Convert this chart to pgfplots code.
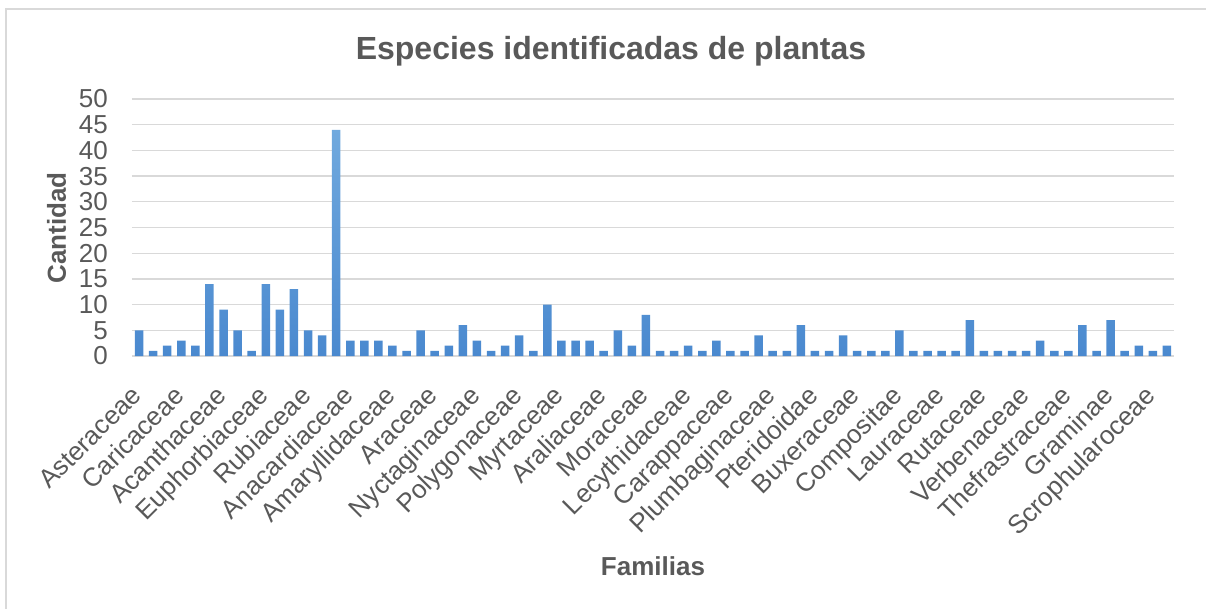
\documentclass[border=0pt]{standalone}
\usepackage{fontspec}
\setmainfont{Liberation Sans}
\usepackage{pgfplots}
\pgfplotsset{compat=1.18}
\definecolor{txt}{HTML}{595959}
\definecolor{gridc}{HTML}{D9D9D9}
\definecolor{bartop}{HTML}{70A9DE}
\definecolor{barbot}{HTML}{4A89CF}
\begin{document}
\begin{tikzpicture}[x=1pt,y=1pt]
\useasboundingbox (-132,-252) rectangle (1074,356);
\draw[gridc, line width=1.2pt] (-126,347) rectangle (1090,-270);
\begin{axis}[
  at={(0,0)}, anchor=south west,
  scale only axis, width=1042pt, height=257pt,
  xmin=0.5, xmax=74.5, ymin=0, ymax=50,
  ytick={0,5,...,50},
  xtick={1,4,...,73},
  xticklabels={Asteraceae,Caricaceae,Acanthaceae,Euphorbiaceae,Rubiaceae,Anacardiaceae,Amaryllidaceae,Araceae,Nyctaginaceae,Polygonaceae,Myrtaceae,Araliaceae,Moraceae,Lecythidaceae,Carappaceae,Plumbaginaceae,Pteridoidae,Buxeraceae,Compositae,Lauraceae,Rutaceae,Verbenaceae,Thefrastraceae,Graminae,Scrophularoceae},
  axis x line*=bottom, axis y line*=left,
  y axis line style={draw=none},
  x axis line style={gridc, line width=2pt},
  ymajorgrids, grid style={gridc, line width=1.3pt},
  major tick length=0pt,
  tick label style={text=txt},
  /pgf/number format/assume math mode=true,
  yticklabel style={anchor=east, inner sep=0pt, font=\fontsize{26}{26}\selectfont},
  yticklabel shift=24pt,
  xticklabel style={xshift=-9pt, yshift=-4pt, rotate=45, anchor=north east, inner sep=0pt, font=\fontsize{26}{26}\selectfont},
  xticklabel shift=24pt,
  ybar, bar width=8.5pt,
]
\addplot[draw=none, top color=bartop, bottom color=barbot] coordinates {
(1,5) (2,1) (3,2) (4,3) (5,2) (6,14) (7,9) (8,5) (9,1) (10,14)
(11,9) (12,13) (13,5) (14,4) (15,44) (16,3) (17,3) (18,3) (19,2) (20,1)
(21,5) (22,1) (23,2) (24,6) (25,3) (26,1) (27,2) (28,4) (29,1) (30,10)
(31,3) (32,3) (33,3) (34,1) (35,5) (36,2) (37,8) (38,1) (39,1) (40,2)
(41,1) (42,3) (43,1) (44,1) (45,4) (46,1) (47,1) (48,6) (49,1) (50,1)
(51,4) (52,1) (53,1) (54,1) (55,5) (56,1) (57,1) (58,1) (59,1) (60,7)
(61,1) (62,1) (63,1) (64,1) (65,3) (66,1) (67,1) (68,6) (69,1) (70,7)
(71,1) (72,2) (73,1) (74,2)
};
\end{axis}
\node[anchor=base, text=txt, font=\fontsize{32}{32}\selectfont\bfseries] at (479,296.7) {Especies identificadas de plantas};
\node[anchor=base, text=txt, font=\fontsize{26}{26}\selectfont\bfseries] at (521,-219) {Familias};
\node[anchor=base, rotate=90, text=txt, font=\fontsize{26}{26}\selectfont\bfseries] at (-66,128) {Cantidad};
\end{tikzpicture}
\end{document}
